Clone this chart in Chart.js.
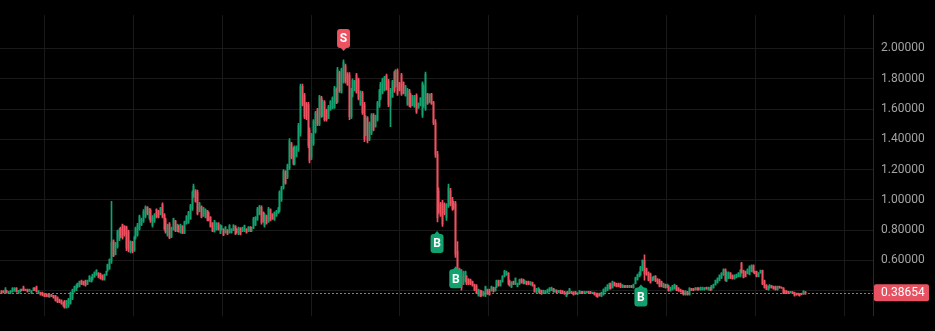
<!DOCTYPE html>
<html><head><meta charset="utf-8">
<script src="https://cdn.jsdelivr.net/npm/chart.js@4.4.1/dist/chart.umd.min.js"></script>
<style>html,body{margin:0;padding:0;background:#000;overflow:hidden}#wrap{width:935px;height:331px}</style>
</head><body><div id="wrap"><canvas id="c" width="935" height="331"></canvas></div>
<script>
const open=[
.397,.398,.388,.40,.385,.388,.395,.40,.415,.385,
.395,.408,.42,.408,.405,.398,.385,.402,.415,.425,
.385,.388,.385,.375,.375,.372,.36,.374,.368,.366,
.355,.34,.335,.32,.33,.29,.30,.315,.35,.40,
.41,.425,.43,.465,.46,.465,.445,.465,.46,.478,
.49,.505,.515,.51,.50,.475,.505,.53,.545,.60,
.73,.64,.69,.74,.81,.835,.825,.82,.79,.66,
.72,.67,.75,.77,.81,.835,.86,.89,.95,.88,
.93,.83,.86,.935,.925,.905,.97,.90,.87,.77,
.84,.755,.805,.86,.795,.83,.785,.825,.78,.845,
.85,.875,.94,1.02,1.06,1.05,.925,.955,.895,.885,
.925,.915,.885,.845,.79,.805,.845,.78,.805,.805,
.785,.80,.785,.785,.80,.825,.805,.775,.81,.795,
.795,.805,.795,.82,.795,.815,.835,.87,.905,.95,
.915,.83,.895,.855,.935,.905,.87,.895,.915,.93,
1.0,1.08,1.185,1.15,1.21,1.37,1.34,1.24,1.29,1.33,
1.44,1.75,1.69,1.635,1.63,1.46,1.28,1.37,1.45,1.595,
1.50,1.675,1.555,1.645,1.59,1.54,1.595,1.605,1.61,1.73,
1.65,1.84,1.71,1.78,1.885,1.83,1.82,1.55,1.69,1.725,
1.825,1.795,1.63,1.705,1.63,1.43,1.54,1.40,1.44,1.56,
1.485,1.53,1.62,1.67,1.705,1.725,1.82,1.785,1.62,1.68,
1.84,1.75,1.855,1.77,1.825,1.775,1.69,1.63,1.72,1.695,
1.625,1.615,1.69,1.607,1.625,1.56,1.62,1.60,1.70,1.645,
1.70,1.645,1.51,1.30,1.06,.97,.98,.97,.88,.96,
1.06,1.00,.98,.975,.66,.54,.50,.45,.47,.495,
.475,.47,.46,.44,.43,.37,.40,.395,.37,.37,
.405,.40,.40,.42,.40,.425,.465,.435,.46,.495,
.505,.515,.465,.425,.46,.445,.428,.445,.475,.47,
.448,.46,.458,.44,.452,.436,.39,.395,.405,.40,
.383,.384,.388,.395,.404,.412,.394,.402,.388,.40,
.397,.393,.365,.392,.383,.393,.39,.393,.376,.383,
.394,.392,.386,.387,.394,.393,.381,.388,.382,.38,
.382,.363,.375,.393,.405,.415,.445,.42,.452,.447,
.446,.445,.423,.433,.422,.434,.422,.433,.42,.447,
.474,.494,.505,.535,.60,.545,.52,.51,.467,.473,
.496,.476,.47,.46,.424,.44,.423,.432,.40,.407,
.414,.432,.417,.407,.40,.396,.373,.393,.374,.414,
.413,.406,.417,.416,.406,.407,.406,.422,.406,.421,
.407,.419,.44,.453,.468,.484,.504,.54,.465,.484,
.516,.50,.479,.487,.493,.495,.58,.532,.526,.513,
.508,.527,.566,.528,.527,.493,.518,.532,.465,.436,
.407,.419,.433,.427,.427,.407,.428,.423,.417,.40,
.397,.394,.386,.392,.388,.382,.381,.378,.382,.378,
.392];
const high=[
.40,.40,.42,.402,.395,.40,.42,.42,.42,.402,
.41,.41,.43,.41,.41,.41,.40,.42,.42,.43,
.40,.39,.39,.38,.38,.378,.376,.376,.37,.37,
.36,.344,.34,.324,.336,.336,.35,.39,.41,.43,
.44,.45,.464,.47,.464,.47,.47,.50,.49,.51,
.524,.54,.52,.516,.504,.51,.53,.576,.61,.99,
.736,.72,.80,.81,.82,.84,.83,.826,.80,.73,
.726,.76,.82,.844,.90,.88,.936,.96,.956,.944,
.94,.896,.91,.94,.93,.95,.98,.91,.88,.84,
.85,.82,.88,.864,.84,.834,.84,.83,.86,.896,
.924,.97,1.06,1.104,1.068,1.064,.984,.96,.95,.94,
.93,.92,.89,.85,.864,.85,.85,.836,.83,.81,
.824,.804,.836,.81,.836,.83,.81,.82,.816,.82,
.834,.81,.824,.824,.82,.884,.89,.95,.964,.96,
.92,.91,.90,.95,.94,.91,.92,.93,.95,1.06,
1.09,1.20,1.194,1.236,1.404,1.38,1.35,1.356,1.356,1.506,
1.764,1.764,1.704,1.644,1.644,1.476,1.44,1.53,1.584,1.604,
1.69,1.684,1.66,1.656,1.60,1.624,1.656,1.68,1.75,1.74,
1.876,1.85,1.87,1.924,1.896,1.84,1.84,1.736,1.80,1.79,
1.836,1.804,1.72,1.716,1.644,1.556,1.55,1.516,1.57,1.57,
1.56,1.65,1.73,1.776,1.804,1.816,1.83,1.796,1.736,1.79,
1.85,1.86,1.866,1.776,1.836,1.78,1.756,1.736,1.73,1.704,
1.69,1.69,1.70,1.64,1.676,1.78,1.76,1.844,1.704,1.70,
1.704,1.65,1.53,1.32,1.08,.984,.996,.98,.976,1.104,
1.076,1.016,.99,.99,.724,.55,.54,.53,.53,.50,
.48,.476,.464,.444,.44,.41,.404,.40,.396,.43,
.41,.41,.43,.424,.424,.47,.47,.47,.50,.534,
.53,.52,.47,.46,.464,.484,.45,.476,.48,.476,
.47,.464,.464,.46,.456,.44,.416,.42,.41,.404,
.404,.40,.41,.42,.424,.416,.41,.405,.402,.404,
.40,.396,.39,.396,.416,.396,.392,.396,.388,.40,
.396,.396,.396,.396,.396,.396,.39,.39,.384,.384,
.384,.39,.412,.424,.44,.45,.45,.464,.456,.45,
.45,.45,.44,.436,.436,.436,.436,.436,.444,.49,
.51,.524,.56,.604,.636,.55,.524,.516,.49,.496,
.50,.48,.476,.464,.45,.444,.444,.436,.424,.436,
.444,.436,.42,.41,.404,.40,.40,.396,.42,.416,
.416,.42,.42,.42,.424,.424,.42,.424,.424,.424,
.436,.444,.47,.484,.504,.52,.544,.544,.524,.524,
.52,.504,.504,.51,.52,.54,.588,.536,.53,.544,
.564,.57,.57,.53,.53,.52,.536,.536,.47,.44,
.43,.44,.436,.43,.43,.43,.43,.424,.42,.404,
.40,.396,.396,.394,.39,.384,.384,.38,.384,.40,
.394];
const low=[
.38,.385,.38,.385,.38,.38,.39,.395,.39,.38,
.39,.40,.40,.40,.39,.395,.38,.40,.40,.39,
.38,.37,.365,.36,.36,.358,.356,.36,.35,.33,
.32,.32,.31,.296,.284,.284,.29,.31,.34,.39,
.40,.42,.424,.44,.436,.43,.44,.46,.456,.47,
.488,.50,.484,.476,.47,.47,.50,.528,.54,.58,
.624,.636,.68,.73,.75,.74,.76,.664,.656,.65,
.65,.66,.74,.76,.80,.83,.85,.88,.90,.87,
.85,.82,.85,.88,.88,.90,.88,.80,.78,.76,
.744,.75,.80,.79,.79,.786,.78,.776,.776,.84,
.844,.87,.93,1.016,.984,.90,.92,.88,.89,.88,
.86,.86,.82,.79,.786,.80,.80,.776,.80,.764,
.78,.77,.78,.78,.796,.77,.78,.77,.768,.79,
.79,.78,.79,.79,.79,.81,.83,.864,.90,.84,
.85,.82,.84,.85,.86,.87,.864,.89,.91,.92,
.99,1.07,1.104,1.14,1.20,1.27,1.23,1.23,1.284,1.32,
1.42,1.62,1.536,1.53,1.344,1.244,1.266,1.36,1.44,1.49,
1.49,1.544,1.55,1.52,1.52,1.536,1.59,1.60,1.604,1.636,
1.64,1.71,1.704,1.77,1.77,1.756,1.53,1.536,1.68,1.72,
1.704,1.66,1.624,1.564,1.384,1.424,1.376,1.39,1.43,1.456,
1.48,1.52,1.61,1.66,1.70,1.72,1.724,1.616,1.484,1.676,
1.71,1.744,1.69,1.72,1.69,1.70,1.684,1.624,1.616,1.61,
1.62,1.61,1.57,1.604,1.62,1.544,1.61,1.59,1.63,1.64,
1.63,1.496,1.28,.854,.91,.89,.824,.90,.864,.95,
.96,.93,.936,.62,.50,.43,.404,.44,.46,.44,
.44,.44,.43,.40,.38,.364,.36,.364,.364,.36,
.376,.37,.396,.39,.396,.42,.43,.43,.456,.49,
.50,.44,.43,.42,.44,.44,.424,.44,.45,.444,
.444,.44,.44,.436,.43,.39,.384,.39,.38,.376,
.38,.38,.384,.39,.40,.39,.39,.385,.386,.38,
.38,.376,.36,.376,.38,.38,.37,.376,.374,.38,
.38,.38,.384,.384,.383,.38,.38,.37,.36,.356,
.364,.36,.37,.39,.40,.41,.41,.416,.43,.424,
.424,.42,.42,.42,.42,.42,.42,.42,.416,.444,
.47,.49,.50,.53,.47,.50,.464,.45,.464,.47,
.46,.444,.424,.424,.42,.416,.42,.396,.396,.404,
.41,.40,.396,.39,.38,.37,.37,.37,.37,.40,
.40,.404,.404,.404,.404,.404,.404,.41,.404,.40,
.404,.416,.436,.45,.464,.48,.50,.464,.46,.48,
.48,.476,.476,.484,.49,.49,.516,.484,.49,.51,
.504,.524,.52,.51,.49,.49,.516,.44,.416,.406,
.404,.416,.416,.41,.404,.404,.416,.416,.38,.384,
.38,.38,.384,.38,.364,.37,.37,.364,.372,.376,
.376];
const close=[
.385,.388,.41,.39,.393,.398,.415,.415,.395,.40,
.405,.401,.403,.401,.395,.408,.398,.415,.402,.395,
.398,.375,.37,.362,.362,.36,.372,.362,.352,.335,
.325,.322,.312,.30,.29,.33,.345,.385,.405,.425,
.435,.448,.46,.445,.44,.435,.468,.495,.485,.505,
.52,.535,.49,.48,.475,.505,.528,.57,.605,.72,
.63,.715,.79,.80,.76,.75,.77,.68,.67,.725,
.66,.75,.81,.83,.89,.87,.92,.95,.91,.935,
.86,.885,.90,.89,.885,.945,.89,.81,.79,.83,
.75,.81,.875,.795,.835,.79,.835,.78,.855,.89,
.915,.96,1.05,1.09,.99,.91,.975,.885,.945,.935,
.865,.865,.825,.795,.855,.845,.805,.83,.825,.77,
.82,.775,.83,.805,.83,.775,.785,.815,.775,.815,
.83,.785,.82,.795,.815,.875,.885,.94,.955,.85,
.855,.905,.845,.94,.865,.875,.915,.925,.945,1.05,
1.08,1.19,1.11,1.225,1.39,1.28,1.24,1.345,1.35,1.49,
1.75,1.63,1.55,1.54,1.36,1.26,1.43,1.52,1.575,1.50,
1.68,1.555,1.65,1.53,1.53,1.615,1.65,1.67,1.74,1.645,
1.86,1.72,1.86,1.91,1.78,1.76,1.55,1.725,1.79,1.785,
1.71,1.67,1.71,1.575,1.40,1.545,1.39,1.505,1.56,1.465,
1.555,1.64,1.72,1.765,1.795,1.81,1.73,1.63,1.725,1.78,
1.72,1.85,1.70,1.725,1.70,1.705,1.75,1.725,1.625,1.62,
1.685,1.68,1.58,1.635,1.67,1.77,1.75,1.83,1.635,1.695,
1.635,1.51,1.30,.88,.92,.90,.84,.91,.97,1.08,
.97,.94,.945,.64,.52,.45,.42,.52,.525,.445,
.445,.445,.435,.405,.385,.405,.365,.37,.39,.425,
.38,.375,.425,.395,.42,.465,.435,.465,.495,.53,
.525,.45,.435,.455,.445,.48,.447,.47,.455,.45,
.466,.445,.444,.456,.434,.395,.41,.415,.385,.38,
.40,.397,.405,.415,.42,.395,.407,.388,.40,.385,
.384,.38,.387,.38,.41,.383,.373,.38,.386,.397,
.383,.382,.394,.395,.386,.383,.389,.373,.364,.36,
.367,.387,.408,.42,.435,.445,.415,.46,.433,.428,
.427,.424,.437,.422,.434,.423,.434,.422,.44,.485,
.505,.52,.555,.60,.51,.505,.47,.455,.487,.493,
.464,.448,.43,.428,.446,.42,.44,.40,.42,.432,
.44,.404,.399,.393,.384,.374,.396,.373,.415,.402,
.403,.418,.406,.406,.421,.42,.418,.412,.421,.404,
.432,.44,.466,.48,.50,.515,.54,.47,.52,.52,
.484,.48,.50,.507,.516,.535,.52,.488,.494,.54,
.558,.565,.524,.512,.494,.517,.533,.445,.42,.41,
.427,.437,.419,.412,.407,.427,.418,.417,.383,.386,
.383,.382,.394,.382,.368,.372,.373,.367,.374,.396,
.38654];
const priceTicks=[0.4,0.6,0.8,1.0,1.2,1.4,1.6,1.8,2.0];
const hiddenTick=0.4;
const lastPrice=0.38654;
const signalIndex=[183,233,243,342];
const signalType=['S','B','B','B'];
const timeGridStart=23.1, timeGridStep=47.52;

const UP='#12a26f', DOWN='#ee5160', GRID='#1a1a1a', BORDER='#2a2a2a';
const X_MIN=-0.695, X_MAX=466.1, Y_MIN=0.234, Y_MAX=2.2196;

const idx=close.map((_,i)=>i);
const colors=idx.map(i=>close[i]>=open[i]?UP:DOWN);

const bgPlugin={id:'bg',beforeDraw(ch){const c=ch.ctx;c.save();c.fillStyle='#000';c.fillRect(0,0,ch.width,ch.height);c.restore();}};

// snap each bar produced by the scales to the pixel grid so 1px candles stay crisp
const snapPlugin={id:'snap',afterDatasetsUpdate(ch){
  ch.data.datasets.forEach((d,di)=>{ch.getDatasetMeta(di).data.forEach(el=>{el.x=Math.floor(el.x)+0.5;});});
}};

function drawMarker(ctx,x,tipY,type){
  const w=13,h=19,r=3,ph=3;
  const up=type==='B';
  ctx.save();
  ctx.fillStyle=up?UP:DOWN;
  const top=up?tipY+ph:tipY-ph-h;
  ctx.beginPath();ctx.roundRect(x-w/2,top,w,h,r);ctx.fill();
  ctx.beginPath();
  if(up){ctx.moveTo(x-3.5,top+1);ctx.lineTo(x,tipY);ctx.lineTo(x+3.5,top+1);}
  else{ctx.moveTo(x-3.5,top+h-1);ctx.lineTo(x,tipY);ctx.lineTo(x+3.5,top+h-1);}
  ctx.closePath();ctx.fill();
  ctx.fillStyle='#fff';ctx.font='bold 12px Roboto';ctx.textAlign='center';ctx.textBaseline='middle';
  ctx.fillText(type,x,top+h/2+1);
  ctx.restore();
}

const overlay={id:'overlay',
  afterDatasetsDraw(ch){
    const c=ch.ctx,xs=ch.scales.x,ys=ch.scales.y,a=ch.chartArea;
    c.save();
    const py=Math.round(ys.getPixelForValue(lastPrice))+0.5;
    c.strokeStyle=DOWN;c.lineWidth=1;c.setLineDash([2,2]);
    c.beginPath();c.moveTo(a.left,py);c.lineTo(a.right,py);c.stroke();
    c.restore();
    signalIndex.forEach((k,j)=>{
      const x=xs.getPixelForValue(k);
      if(signalType[j]==='S') drawMarker(c,x,ys.getPixelForValue(high[k])-9,'S');
      else drawMarker(c,x,ys.getPixelForValue(low[k])+9,'B');
    });
  },
  afterDraw(ch){
    const c=ch.ctx,ys=ch.scales.y,a=ch.chartArea;
    const py=ys.getPixelForValue(lastPrice);
    c.save();
    c.fillStyle='#e65261';
    c.beginPath();c.roundRect(a.right+1,py-8.5,55,17,2);c.fill();
    c.fillStyle='#fff';c.font='12px Roboto';c.textAlign='left';c.textBaseline='middle';
    c.fillText(lastPrice.toFixed(5),a.right+8,py+0.5);
    c.restore();
  }
};

new Chart(document.getElementById('c'),{
  type:'bar',
  data:{datasets:[
    {label:'wick',data:idx.map(i=>({x:i,y:[low[i],high[i]]})),backgroundColor:colors,barThickness:1,grouped:false,order:2},
    {label:'body',data:idx.map(i=>({x:i,y:[open[i],close[i]]})),backgroundColor:colors,barThickness:1,grouped:false,order:1}
  ]},
  options:{
    responsive:false,animation:false,devicePixelRatio:1,
    layout:{padding:0},
    plugins:{legend:{display:false},tooltip:{enabled:false}},
    scales:{
      x:{type:'linear',min:X_MIN,max:X_MAX,offset:false,
        grid:{color:GRID,drawTicks:false,offset:false},border:{display:false},
        ticks:{display:false},
        afterBuildTicks:s=>{const t=[];for(let v=timeGridStart;v<X_MAX;v+=timeGridStep)t.push({value:v});s.ticks=t;},
        afterFit:s=>{s.height=0;}},
      y:{type:'linear',position:'right',min:Y_MIN,max:Y_MAX,
        grid:{color:GRID,drawTicks:false},border:{display:true,color:BORDER},
        ticks:{color:'#a3a3a3',font:{family:'Roboto',size:12},padding:8,
          callback:v=>v===hiddenTick?'':Number(v).toFixed(5)},
        afterBuildTicks:s=>{s.ticks=priceTicks.map(v=>({value:v}));},
        afterFit:s=>{s.width=62;}}
    }
  },
  plugins:[bgPlugin,snapPlugin,overlay]
});
</script>
</body></html>
